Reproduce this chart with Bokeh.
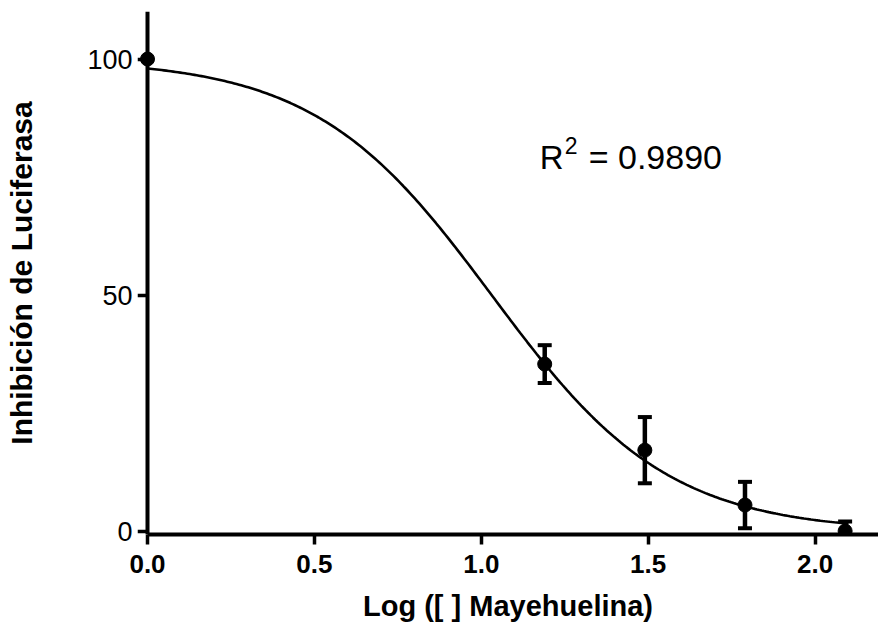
import numpy as np
from bokeh.plotting import figure
from bokeh.models import Range1d, FixedTicker, Label, NumeralTickFormatter, LinearAxis
from bokeh.embed import file_html
from bokeh.resources import INLINE

# ---- data ----
log_conc = [0.0, 1.19, 1.49, 1.79, 2.09]
inhibition = [100.0, 35.5, 17.3, 5.7, 0.2]
sem = [0.0, 4.0, 7.0, 4.9, 2.0]

# four-parameter logistic fit
fit_top = 100.0
fit_bottom = 0.0
fit_log_ic50 = 1.032
fit_hill = 1.638
fit_x_max = 2.1

x_ticks = [0.0, 0.5, 1.0, 1.5, 2.0]
y_ticks = [0, 50, 100]
r2_text = "0.9890"

FONT = "Liberation Sans"

p = figure(width=878, height=626, output_backend="svg", toolbar_location=None,
           x_range=Range1d(-0.03, 2.19), y_range=Range1d(-0.53, 110.05),
           min_border_left=137, min_border_right=0, min_border_top=11, min_border_bottom=92)
p.outline_line_color = None
p.xgrid.visible = False
p.ygrid.visible = False
p.background_fill_color = "white"
p.border_fill_color = "white"

# fitted curve
xc = np.linspace(0.0, fit_x_max, 300)
yc = fit_bottom + (fit_top - fit_bottom) / (1.0 + 10 ** ((xc - fit_log_ic50) * fit_hill))
p.line(xc, yc, line_color="black", line_width=2.6)

# error bars
eb_x = [x for x, e in zip(log_conc, sem) if e > 0]
eb_lo = [y - e for y, e in zip(inhibition, sem) if e > 0]
eb_hi = [y + e for y, e in zip(inhibition, sem) if e > 0]
p.segment(x0=eb_x, y0=eb_lo, x1=eb_x, y1=eb_hi, line_color="black", line_width=4.5)
p.scatter(x=eb_x + eb_x, y=eb_lo + eb_hi, marker="dash", size=14, line_width=4,
          line_color="black")

# data points
p.scatter(x=log_conc, y=inhibition, marker="circle", size=14, fill_color="black",
          line_color="black")

# x axis
xa = p.xaxis[0]
xa.bounds = (0, 2.19)
xa.axis_line_width = 4
xa.axis_line_color = "black"
xa.major_tick_line_width = 3.5
xa.major_tick_line_color = "black"
xa.minor_tick_line_color = None
xa.major_tick_in = 0
xa.major_tick_out = 10
xa.ticker = FixedTicker(ticks=x_ticks)
xa.formatter = NumeralTickFormatter(format="0.0")
xa.major_label_text_font = FONT
xa.major_label_text_color = "black"
xa.major_label_text_font_size = "26px"
xa.major_label_text_font_style = "bold"
xa.major_label_standoff = 10
xa.axis_label = "Log ([ ] Mayehuelina)"
xa.axis_label_standoff = 14
xa.axis_label_text_font = FONT
xa.axis_label_text_font_style = "bold"
xa.axis_label_text_font_size = "29px"
xa.axis_label_text_color = "black"

# y axis: labels from the frame-edge axis
ya = p.yaxis[0]
ya.ticker = FixedTicker(ticks=y_ticks)
ya.axis_line_color = None
ya.major_tick_line_color = None
ya.minor_tick_line_color = None
ya.major_tick_in = 0
ya.major_tick_out = 0
ya.major_label_text_font = FONT
ya.major_label_text_color = "black"
ya.major_label_text_font_size = "27px"
ya.major_label_text_font_style = "normal"
ya.major_label_standoff = 5
ya.axis_label = "Inhibición de Luciferasa"
ya.axis_label_standoff = 46
ya.axis_label_text_font = FONT
ya.axis_label_text_font_style = "bold"
ya.axis_label_text_font_size = "30px"
ya.axis_label_text_color = "black"

# y axis line and ticks at x = 0
ya2 = LinearAxis(fixed_location=0, ticker=FixedTicker(ticks=y_ticks))
ya2.axis_line_width = 4
ya2.axis_line_color = "black"
ya2.major_tick_line_width = 3.5
ya2.major_tick_line_color = "black"
ya2.minor_tick_line_color = None
ya2.major_tick_in = 0
ya2.major_tick_out = 10
ya2.major_label_text_color = None
ya2.major_label_text_font_size = "1px"
p.add_layout(ya2, "left")

# R^2 annotation
lab_r = Label(x=1.175, y=79.2, text="R", text_font=FONT, text_font_size="33px",
              text_color="black", text_baseline="alphabetic")
lab_2 = Label(x=1.175, y=81.8, x_offset=25, text="2", text_font=FONT, text_font_size="23px",
              text_color="black", text_baseline="alphabetic")
lab_v = Label(x=1.175, y=79.2, x_offset=49, text="= " + r2_text, text_font=FONT,
              text_font_size="34px", text_color="black", text_baseline="alphabetic")
for lab in (lab_r, lab_2, lab_v):
    p.add_layout(lab)

open("out.html", "w").write(file_html(p, INLINE))
